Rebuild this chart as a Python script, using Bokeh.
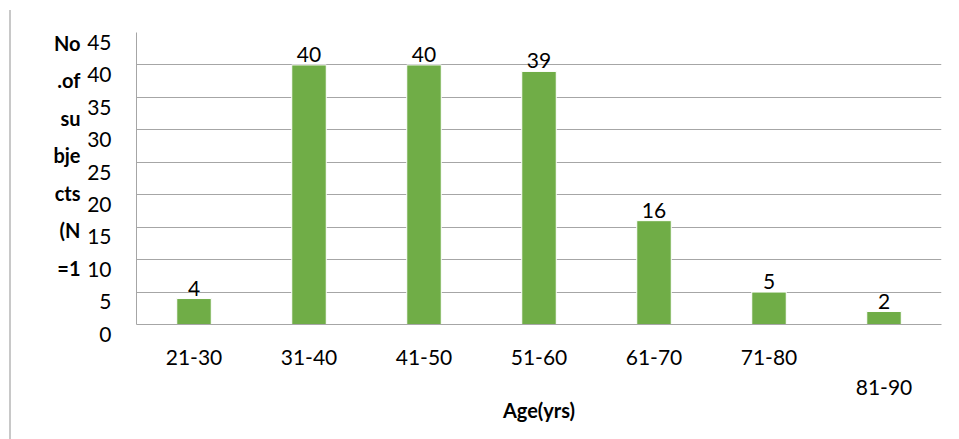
from bokeh.plotting import figure
from bokeh.models import (ColumnDataSource, LabelSet, FactorRange, Range1d, FixedTicker,
                          LinearAxis)
from bokeh.core.properties import value
from bokeh.embed import file_html
from bokeh.resources import INLINE

categories = ["21-30", "31-40", "41-50", "51-60", "61-70", "71-80", "81-90"]
counts = [4, 40, 40, 39, 16, 5, 2]
y_ticks = [0, 5, 10, 15, 20, 25, 30, 35, 40, 45]
y_title_lines = ["No", ".of", "su", "bje", "cts", "(N", "=1"]
x_title = "Age(yrs)"
lowered_label = "81-90"

FONT = "Lato"
GRAY = "#a6a6a6"
BLANK = "\u00a0"
W, H = 940, 429
FRAME_H = 292.0
TOP = 22
px_per_unit = FRAME_H / 45.0

# the last category label is staggered one row lower, as in the reference
factors = [c if c != lowered_label else BLANK + "\n" + c for c in categories]

p = figure(x_range=FactorRange(*factors), y_range=Range1d(0, 45),
           width=W, height=H, output_backend="svg", toolbar_location=None,
           min_border_left=125, min_border_right=10, min_border_top=TOP,
           min_border_bottom=H - TOP - int(FRAME_H))
p.styles = {"border-left": "2px solid #c8c8c8", "margin-left": "9px", "margin-top": "10px"}
p.outline_line_color = None

src = ColumnDataSource(dict(cat=factors, count=counts, label=[str(c) for c in counts]))
p.vbar(x="cat", top="count", width=0.30, source=src, fill_color="#70AD47",
       line_color="white", line_width=1)

p.xgrid.grid_line_color = None
p.ygrid.ticker = FixedTicker(ticks=y_ticks[1:-1])
p.ygrid.grid_line_color = GRAY
p.ygrid.grid_line_width = 1

# main y axis: labels sit a little below their ticks, as in the reference
p.yaxis.ticker = FixedTicker(ticks=y_ticks)
p.yaxis.major_label_overrides = {t: BLANK + "\n" + str(t) for t in y_ticks}
p.yaxis.axis_line_color = GRAY
p.yaxis.major_tick_line_color = None
p.yaxis.minor_tick_line_color = None
p.yaxis.major_label_text_font = FONT
p.yaxis.major_label_text_font_size = "21px"
p.yaxis.major_label_text_color = "black"
p.yaxis.major_label_text_line_height = 0.7
p.yaxis.major_label_standoff = 19

# wrapped y-axis title, drawn as the labels of an extra left axis
title_pos = [(324 - (42 + 37.5 * i)) / px_per_unit for i in range(len(y_title_lines))]
title_axis = LinearAxis(ticker=FixedTicker(ticks=title_pos),
                        major_label_overrides={v: s for v, s in zip(title_pos, y_title_lines)},
                        axis_line_color=None, major_tick_line_color=None,
                        minor_tick_line_color=None, major_label_standoff=-2,
                        major_label_text_font=FONT, major_label_text_font_style="bold",
                        major_label_text_font_size="20px", major_label_text_color="black")
p.add_layout(title_axis, "left")

p.xaxis.axis_line_color = GRAY
p.xaxis.major_tick_line_color = None
p.xaxis.minor_tick_line_color = None
p.xaxis.major_label_text_font = FONT
p.xaxis.major_label_text_font_size = "21px"
p.xaxis.major_label_text_color = "black"
p.xaxis.major_label_standoff = 13
p.xaxis.axis_label = x_title
p.xaxis.axis_label_text_font = FONT
p.xaxis.axis_label_text_font_style = "bold"
p.xaxis.axis_label_text_font_size = "20px"
p.xaxis.axis_label_standoff = -4
p.xaxis.axis_label_text_color = "black"

# value labels above bars
p.add_layout(LabelSet(x="cat", y="count", text="label", source=src, text_align="center",
                      text_baseline="alphabetic", y_offset=3, text_font=value(FONT),
                      text_font_size="21px", text_color="black"))

open("out.html", "w").write(file_html(p, INLINE))
